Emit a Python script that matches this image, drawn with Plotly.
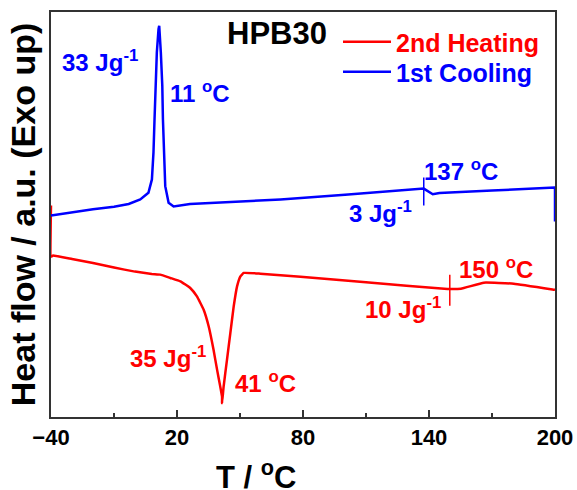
import plotly.graph_objects as go

# ---- data (y in arbitrary units 0-100) ----
heat_T = [-40, -40, -39, -30, -20, -10, 0, 8, 12.0, 16.8, 21.6, 26.3, 29.5, 32.7, 35.1, 37.4, 39.1, 40.6,
          41.45, 41.45, 42.2, 43.8, 45.4, 47.0, 48.6, 50.2, 51.8, 59.7, 78.8, 110, 148.8,
          155.2, 166.1, 180.4, 199.5, 200]
heat_Q = [52.2, 39.6, 39.85, 39.0, 38.0, 36.9, 35.9, 35.3, 35.15, 34.33, 33.49, 31.86, 29.78, 26.49, 22.35, 16.58,
          11.63, 7.5, 5.0, 3.39, 7.5, 14.11, 20.72, 27.3, 32.25, 34.73, 35.57, 35.4, 34.65,
          33.3, 31.6, 31.68, 33.17, 32.92, 31.44, 31.4]

cool_T = [-40, -30, -20, -10, -3, 2.5, 6.4, 8.05, 8.8, 9.3, 9.8, 10.4, 11.2, 11.53, 12.3, 13.0,
          13.3, 13.8, 14.4, 16.0, 18.4, 26.2, 69.3, 100, 136.1, 137.5, 141.8, 145, 170, 200, 200]
cool_Q = [49.75, 50.6, 51.3, 51.9, 52.6, 53.71, 55.37, 58.66, 65.35, 73.51, 81.76, 90.02, 95.79,
          96.61, 90.02, 81.76, 73.51, 65.35, 57.0, 52.9, 51.98, 52.6, 53.71, 54.85, 56.19,
          56.4, 55.0, 55.3, 55.9, 56.68, 48.3]

# onset markers (small vertical ticks)
heat_mark_T = [149.9]
heat_mark_Q = [31.3]
cool_mark_T = [137.5]
cool_mark_Q = [55.7]

x_ticks = [-40, 20, 80, 140, 200]

labels_text = ["33 Jg<sup>-1</sup>", "11 <sup>o</sup>C", "137 <sup>o</sup>C", "3 Jg<sup>-1</sup>",
               "150 <sup>o</sup>C", "10 Jg<sup>-1</sup>", "35 Jg<sup>-1</sup>", "41 <sup>o</sup>C"]
labels_x = [-16.6, 31.1, 155.2, 117.0, 171.8, 127.5, 15.8, 62.1]
labels_y = [87.9, 80.2, 61.1, 50.5, 36.9, 26.8, 14.9, 8.7]
labels_color = ["blue", "blue", "blue", "blue", "red", "red", "red", "red"]

FONT = "Arial, Liberation Sans, sans-serif"

fig = go.Figure()
fig.add_trace(go.Scatter(x=heat_T, y=heat_Q, mode="lines", legend="legend",
                         name="<span style='color:#ff0000'>2nd Heating</span>",
                         line=dict(color="#ff0000", width=2.5, shape="spline", smoothing=0.3)))
fig.add_trace(go.Scatter(x=cool_T, y=cool_Q, mode="lines", legend="legend2",
                         name="<span style='color:#0000ff'>1st Cooling</span>",
                         line=dict(color="#0000ff", width=2.5)))
fig.add_trace(go.Scatter(x=heat_mark_T, y=heat_mark_Q, mode="markers", showlegend=False,
                         marker=dict(symbol="line-ns", size=22, line=dict(color="#ff0000", width=1.5))))
fig.add_trace(go.Scatter(x=cool_mark_T, y=cool_mark_Q, mode="markers", showlegend=False,
                         marker=dict(symbol="line-ns", size=20, line=dict(color="#0000ff", width=1.5))))

for t, x, y, c in zip(labels_text, labels_x, labels_y, labels_color):
    fig.add_annotation(x=x, y=y, xref="x", yref="y", text=t, showarrow=False,
                       xanchor="center", yanchor="middle",
                       font=dict(family=FONT, size=24, color=c, weight="bold"))

fig.add_annotation(x=67.4, y=94.8, xref="x", yref="y", text="HPB30", showarrow=False,
                   xanchor="center", yanchor="middle",
                   font=dict(family=FONT, size=31, color="black", weight="bold"))

# x-axis title (offset left as in the reference)
fig.add_annotation(x=(256 - 51) / 504, y=-(475 - 417) / 405, xref="paper", yref="paper",
                   text="T / <sup>o</sup>C", showarrow=False, xanchor="center", yanchor="middle",
                   font=dict(family=FONT, size=31, color="black", weight="bold"))

fig.update_xaxes(range=[-40, 200], tickvals=x_ticks, ticks="inside", ticklen=7, tickwidth=1.5,
                 tickcolor="#333", showline=True, linecolor="#333", linewidth=1.5, mirror=True,
                 showgrid=False, zeroline=False, automargin=False,
                 tickfont=dict(family=FONT, size=22, color="black", weight="bold"),
                 minor=dict(tickvals=[-10, 50, 110, 170], ticks="inside", ticklen=4,
                            tickwidth=1.5, tickcolor="#333"))
fig.update_yaxes(range=[0, 100], showticklabels=False, ticks="", showline=True, linecolor="#333",
                 linewidth=1.5, mirror=True, showgrid=False, zeroline=False, automargin=False,
                 title=dict(text="Heat flow / a.u. (Exo up)", standoff=3,
                            font=dict(family=FONT, size=34, color="black", weight="bold")))

legend_common = dict(xanchor="left", yanchor="middle", bgcolor="rgba(0,0,0,0)", itemwidth=48,
                     font=dict(family=FONT, size=25, weight="bold"))
fig.update_layout(
    width=577, height=490,
    margin=dict(l=51, r=22, t=12, b=73, autoexpand=False),
    plot_bgcolor="white", paper_bgcolor="white",
    showlegend=True,
    legend=dict(x=(338 - 51) / 504, y=(417 - 42) / 405, **legend_common),
    legend2=dict(x=(338 - 51) / 504, y=(417 - 72) / 405, **legend_common),
)

fig.write_html("out.html")
